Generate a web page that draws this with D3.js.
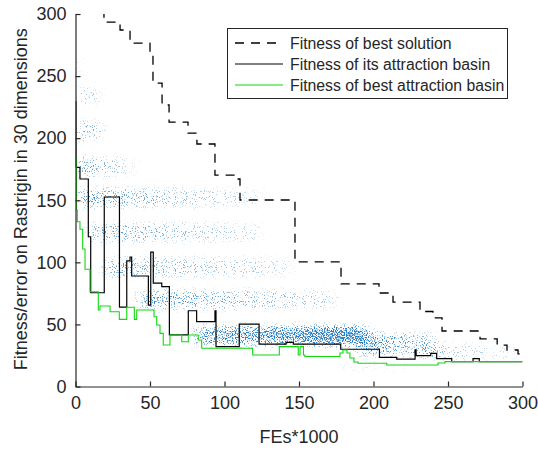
<!DOCTYPE html>
<html>
<head>
<meta charset="utf-8">
<script src="https://cdn.jsdelivr.net/npm/d3@7/dist/d3.min.js"></script>
<style>
  html, body { margin: 0; padding: 0; background: #fff; }
  svg { display: block; font-family: "Liberation Sans", Arial, sans-serif; }
</style>
</head>
<body>
<svg id="chart" width="538" height="449"></svg>
<script>
// 数据：步进曲线 (FEs*1000, fitness)
const bestSolFE  = [0, 19.1, 29.9, 36.6, 50.0, 52.0, 58.1, 62.8, 75.5, 81.5, 93.6, 109.1, 110.4, 147.3, 178.2, 203.7, 213.1, 231.2, 239.9, 246.0, 271.5, 283.0, 289.6, 297.0, 300];
const bestSolFit = [320, 293.5, 287.1, 276.6, 267.0, 244.4, 226.7, 213.0, 204.1, 195.3, 170.3, 167.1, 150.2, 100.3, 82.6, 75.3, 68.0, 60.4, 55.2, 44.7, 38.3, 33.4, 29.4, 26.2, 26.2];

const basinFE  = [0, 0.3, 3.0, 8.6, 10.2, 19.3, 29.5, 34.4, 36.6, 37.7, 48.9, 50.5, 52.2, 57.9, 63.0, 75.7, 81.3, 93.6, 94.3, 109.9, 123.2, 141.3, 146.2, 178.0, 204.0, 215.6, 227.9, 228.6, 238.4, 242.4, 252.5, 266.8, 271.0, 300];
const basinFit = [229.5, 176.4, 167.1, 120.6, 75.5, 152.6, 64.0, 101.1, 104.3, 89.0, 65.6, 108.3, 83.3, 80.4, 41.5, 61.0, 52.2, 61.0, 32.1, 50.3, 34.2, 35.6, 34.2, 30.0, 23.4, 22.1, 29.5, 24.8, 26.6, 22.5, 20.0, 22.4, 20.0, 20.0];

const bestBasinFE  = [0, 0.7, 1.2, 3.0, 4.8, 6.4, 9.7, 15.3, 16.4, 23.2, 29.4, 34.4, 39.5, 41.1, 52.7, 54.5, 56.7, 58.9, 63.4, 71.3, 75.7, 82.4, 84.7, 118.9, 136.8, 149.5, 150.7, 153.0, 154.0, 177.5, 179.5, 182.2, 184.2, 186.9, 189.6, 208.9, 243.3, 248.0, 300];
const bestBasinFit = [184, 142.1, 132.7, 126.6, 110.7, 94.4, 76.3, 61.6, 64.8, 60.2, 54.1, 63.8, 54.1, 61.6, 56.2, 49.5, 42.8, 33.4, 41.5, 36.1, 41.5, 37.4, 30.8, 25.4, 32.1, 25.4, 32.1, 25.4, 24.2, 27.0, 29.4, 27.0, 23.0, 19.7, 18.7, 17.3, 18.9, 20.0, 20.0];

// 种群散点带
const bandFrom      = [0, 0, 0, 0, 1, 10, 20, 43, 80, 190, 232, 176];
const bandTo        = [3, 15, 18, 38, 125, 125, 145, 175, 195, 242, 300, 226];
const bandLevel     = [258, 234, 206, 177, 152, 124, 96, 70, 41, 34, 28, 16];
const bandSpread    = [9, 6, 7, 7, 7, 7, 7, 7, 7, 9, 6, 2];
const bandDensStart = [0.22, 0.3, 0.38, 0.42, 0.42, 0.36, 0.36, 0.42, 0.5, 0.5, 0.26, 0.15];
const bandDensEnd   = [0.15, 0.2, 0.22, 0.15, 0.1, 0.14, 0.14, 0.18, 0.8, 0.25, 0.08, 0.08];

const xTicks = [0, 50, 100, 150, 200, 250, 300];
const yTicks = [0, 50, 100, 150, 200, 250, 300];

const legendLabels = ['Fitness of best solution', 'Fitness of its attraction basin', 'Fitness of best attraction basin'];

const axisColor = '#262626';

const svg = d3.select('#chart');

const x = d3.scaleLinear().domain([0, 300]).range([75.5, 522.5]);
const y = d3.scaleLinear().domain([0, 300]).range([386.5, 14]);

const defs = svg.append('defs');

defs.append('clipPath').attr('id', 'plotClip')
    .append('rect')
    .attr('x', x(0)).attr('y', y(300))
    .attr('width', x(300) - x(0)).attr('height', y(0) - y(300));

// 斑点滤镜
const filter = defs.append('filter')
    .attr('id', 'speckle')
    .attr('filterUnits', 'userSpaceOnUse')
    .attr('x', 0).attr('y', 0).attr('width', 538).attr('height', 449)
    .attr('color-interpolation-filters', 'sRGB');
filter.append('feGaussianBlur')
    .attr('in', 'SourceAlpha').attr('stdDeviation', '7 3.5').attr('result', 'soft');
filter.append('feTurbulence')
    .attr('type', 'fractalNoise').attr('baseFrequency', '0.9 0.8')
    .attr('numOctaves', 1).attr('seed', 7).attr('result', 'noise');
filter.append('feColorMatrix')
    .attr('in', 'noise').attr('type', 'matrix')
    .attr('values', '0 0 0 0 0  0 0 0 0 0  0 0 0 0 0  3 0 0 0 -1')
    .attr('result', 'na');
filter.append('feComposite')
    .attr('in', 'na').attr('in2', 'soft').attr('operator', 'arithmetic')
    .attr('k1', 0).attr('k2', 1).attr('k3', 1).attr('k4', -1)
    .attr('result', 'mix');
const ct = filter.append('feComponentTransfer').attr('in', 'mix').attr('result', 'dots');
ct.append('feFuncA').attr('type', 'linear').attr('slope', 2.4).attr('intercept', 0);
filter.append('feFlood').attr('flood-color', '#2a7fc0').attr('result', 'blue');
filter.append('feComposite').attr('in', 'blue').attr('in2', 'dots').attr('operator', 'in');

const bands = bandFrom.map((d, i) => ({
    from: d, to: bandTo[i], level: bandLevel[i], spread: bandSpread[i],
    d0: bandDensStart[i], d1: bandDensEnd[i]
}));

bands.forEach((b, i) => {
    const g = defs.append('linearGradient').attr('id', 'bg' + i)
        .attr('x1', 0).attr('x2', 1).attr('y1', 0).attr('y2', 0);
    g.append('stop').attr('offset', 0).attr('stop-color', '#000').attr('stop-opacity', b.d0);
    g.append('stop').attr('offset', 1).attr('stop-color', '#000').attr('stop-opacity', b.d1);
});

const plot = svg.append('g').attr('clip-path', 'url(#plotClip)');

plot.append('g')
    .attr('filter', 'url(#speckle)')
    .selectAll('rect')
    .data(bands)
    .join('rect')
    .attr('x', d => x(d.from))
    .attr('width', d => x(d.to) - x(d.from))
    .attr('y', d => y(d.level + d.spread))
    .attr('height', d => y(d.level - d.spread) - y(d.level + d.spread))
    .attr('fill', (d, i) => `url(#bg${i})`);

// 坐标轴
const yAxis = d3.axisLeft(y).tickValues(yTicks).tickSizeInner(-5).tickSizeOuter(0).tickPadding(9);
const xAxis = d3.axisBottom(x).tickValues(xTicks).tickSizeInner(-5).tickSizeOuter(0).tickPadding(10);

const gy = svg.append('g').attr('transform', `translate(${x(0)},0)`).call(yAxis);
const gx = svg.append('g').attr('transform', `translate(0,${y(0)})`).call(xAxis);

[gx, gy].forEach(g => {
    g.select('.domain').attr('stroke', axisColor).attr('stroke-width', 1.2);
    g.selectAll('.tick line').attr('stroke', axisColor).attr('stroke-width', 1.2);
    g.selectAll('.tick text')
        .attr('fill', axisColor)
        .style('font-size', '18px')
        .style('font-family', '"Liberation Sans", Arial, sans-serif');
});

const lineOf = (xsArr, ysArr) => xsArr.map((v, i) => [v, ysArr[i]]);

const stepLine = d3.line()
    .x(d => x(d[0]))
    .y(d => y(d[1]))
    .curve(d3.curveStepAfter);

plot.append('path')
    .attr('d', stepLine(lineOf(bestSolFE, bestSolFit)))
    .attr('fill', 'none').attr('stroke', '#000')
    .attr('stroke-width', 1.3).attr('stroke-dasharray', '9,7');

plot.append('path')
    .attr('d', stepLine(lineOf(basinFE, basinFit)))
    .attr('fill', 'none').attr('stroke', '#000')
    .attr('stroke-width', 1.2);

plot.append('path')
    .attr('d', stepLine(lineOf(bestBasinFE, bestBasinFit)))
    .attr('fill', 'none').attr('stroke', '#10d810')
    .attr('stroke-width', 1.1);

// 轴标签
svg.append('text')
    .attr('x', (x(0) + x(300)) / 2).attr('y', 443)
    .attr('text-anchor', 'middle')
    .attr('fill', axisColor)
    .style('font-size', '18px')
    .text('FEs*1000');

svg.append('text')
    .attr('transform', `translate(27,${(y(0) + y(300)) / 2 - 1}) rotate(-90)`)
    .attr('text-anchor', 'middle')
    .attr('fill', axisColor)
    .style('font-size', '18px')
    .text('Fitness/error on Rastrigin in 30 dimensions');

// 图例
const legend = svg.append('g');
legend.append('rect')
    .attr('x', 227.5).attr('y', 28.5).attr('width', 280).attr('height', 70)
    .attr('fill', '#fff').attr('stroke', axisColor).attr('stroke-width', 1);

const legendStyles = [
    { stroke: '#000', dash: '9,7', w: 1.3 },
    { stroke: '#000', dash: null, w: 1.2 },
    { stroke: '#10d810', dash: null, w: 1.1 }
];

legendLabels.forEach((label, i) => {
    const cy = 43 + i * 21;
    legend.append('line')
        .attr('x1', 235).attr('x2', 283).attr('y1', cy).attr('y2', cy)
        .attr('stroke', legendStyles[i].stroke)
        .attr('stroke-width', legendStyles[i].w)
        .attr('stroke-dasharray', legendStyles[i].dash);
    legend.append('text')
        .attr('x', 290).attr('y', cy).attr('dy', '0.35em')
        .attr('fill', axisColor)
        .style('font-size', '15.8px')
        .text(label);
});
</script>
</body>
</html>
